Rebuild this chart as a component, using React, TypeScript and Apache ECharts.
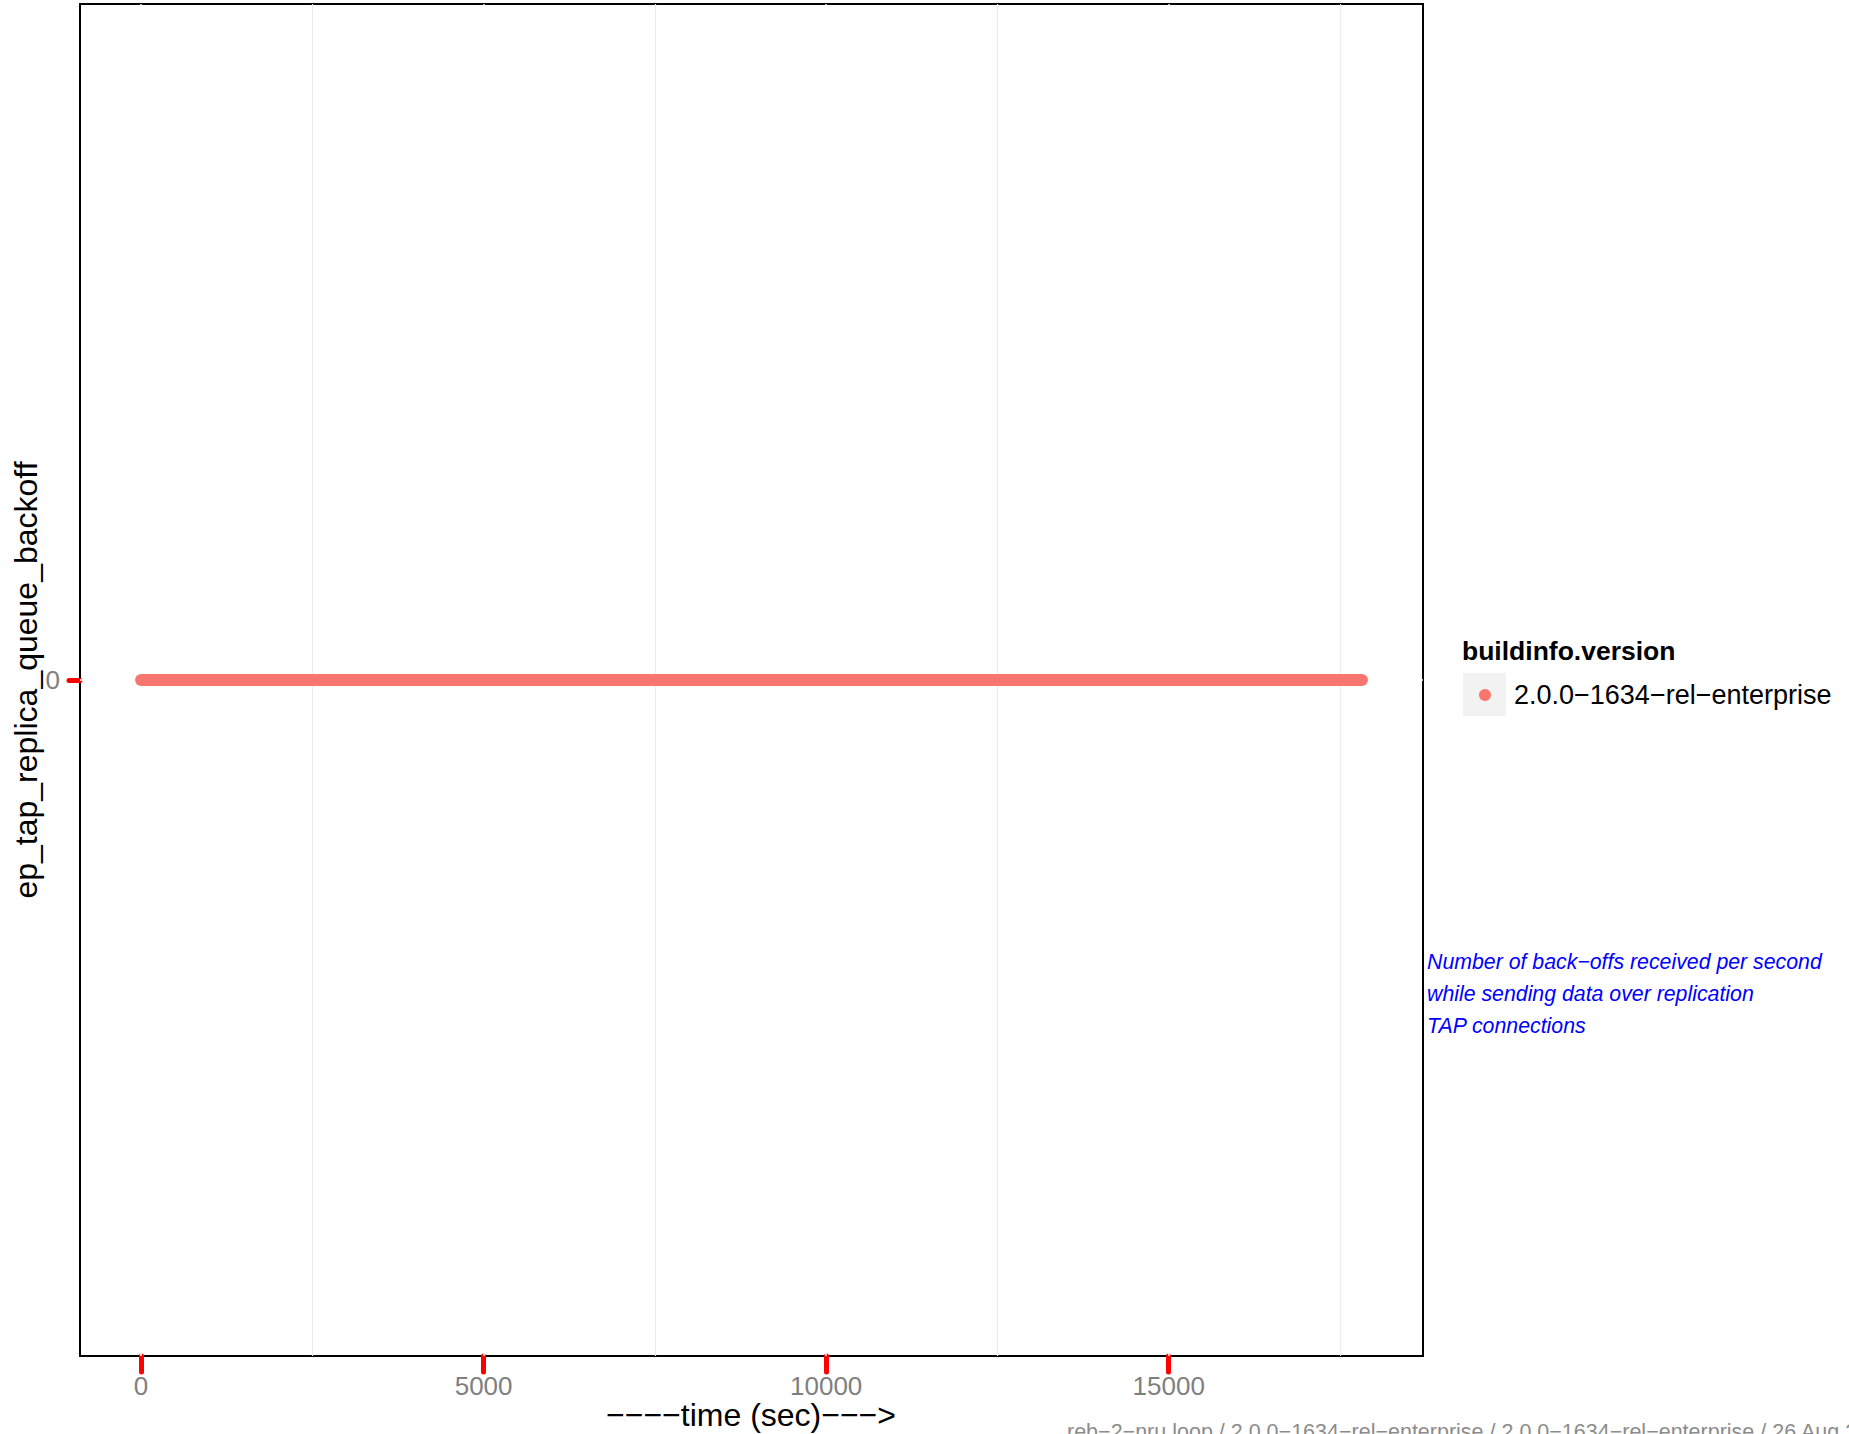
import React, { useEffect, useRef } from 'react';
import * as echarts from 'echarts';

const FONT = '"Liberation Sans", Arial, Helvetica, sans-serif';

const seriesName = '2.0.0−1634−rel−enterprise';
const sampleTimes = [0, 17820];
const sampleValues = [0, 0];
const xTickValues = [0, 5000, 10000, 15000];
const xMinorValues = [2500, 7500, 12500, 17500];
const yTickValues = [0];
const xRange = [-891, 18711];
const yRange = [-1, 1];
const xTitle = '−−−−time (sec)−−−>';
const yTitle = 'ep_tap_replica_queue_backoff';
const legendTitle = 'buildinfo.version';
const noteLines = [
  'Number of back−offs received per second',
  'while sending data over replication',
  'TAP connections',
];
const footer =
  'reb−2−nru loop / 2.0.0−1634−rel−enterprise / 2.0.0−1634−rel−enterprise / 26 Aug 2012';

export default function App() {
  const ref = useRef<HTMLDivElement>(null);
  useEffect(() => {
    if (!ref.current) return;
    const chart = echarts.init(ref.current, null, { renderer: 'svg' });
    const gridLines: any[] = [
      ...xMinorValues.map((v) => ({ xAxis: v, lineStyle: { color: '#ebebeb', width: 1.2, type: 'solid' } })),
      ...xTickValues.map((v) => ({ xAxis: v, lineStyle: { color: '#ffffff', width: 1.5, type: 'solid' } })),
      ...yTickValues.map((v) => ({ yAxis: v, lineStyle: { color: '#ffffff', width: 1.5, type: 'solid' } })),
    ];
    chart.setOption({
      animation: false,
      backgroundColor: '#ffffff',
      textStyle: { fontFamily: FONT },
      grid: {
        left: 80,
        top: 4,
        width: 1343,
        height: 1352,
        show: true,
        borderColor: '#000000',
        borderWidth: 2,
        backgroundColor: '#ffffff',
        containLabel: false,
        outerBoundsMode: 'none',
      },
      xAxis: {
        type: 'value',
        min: xRange[0],
        max: xRange[1],
        axisLine: { show: false, onZero: false },
        splitLine: { show: false },
        axisTick: {
          show: true,
          customValues: xTickValues,
          length: 16,
          lineStyle: { color: '#ff0000', width: 5, cap: 'round' },
        },
        axisLabel: {
          customValues: xTickValues,
          formatter: (v: number) => String(v),
          color: '#7f7f7f',
          fontSize: 26,
          lineHeight: 26,
          margin: 17,
          fontFamily: FONT,
        },
      },
      yAxis: {
        type: 'value',
        min: yRange[0],
        max: yRange[1],
        axisLine: { show: false, onZero: false },
        splitLine: { show: false },
        axisTick: {
          show: true,
          customValues: yTickValues,
          length: 11,
          lineStyle: { color: '#ff0000', width: 5, cap: 'round' },
        },
        axisLabel: {
          customValues: yTickValues,
          formatter: (v: number) => String(v),
          color: '#7f7f7f',
          fontSize: 26,
          margin: 20,
          fontFamily: FONT,
        },
      },
      legend: {
        data: [seriesName],
        left: 1479,
        top: 680,
        padding: 0,
        icon: 'circle',
        itemWidth: 12,
        itemHeight: 12,
        itemGap: 0,
        selectedMode: false,
        textStyle: { fontSize: 27, color: '#000000', fontFamily: FONT, lineHeight: 30, padding: [0, 0, 0, 18] },
      },
      graphic: [
        {
          type: 'text',
          x: 751,
          y: 1415,
          style: {
            text: xTitle,
            fontSize: 32,
            lineHeight: 30,
            fontFamily: FONT,
            fill: '#000000',
            align: 'center',
            verticalAlign: 'middle',
          },
        },
        {
          type: 'text',
          x: 26,
          y: 680,
          rotation: Math.PI / 2,
          style: {
            text: yTitle,
            fontSize: 32,
            fontFamily: FONT,
            fill: '#000000',
            align: 'center',
            verticalAlign: 'middle',
          },
        },
        {
          type: 'rect',
          x: 1463,
          y: 673,
          shape: { width: 43, height: 43 },
          style: { fill: '#f2f2f2' },
          z: 0,
        },
        {
          type: 'text',
          x: 1462,
          y: 651,
          style: {
            text: legendTitle,
            fontSize: 26.5,
            fontWeight: 'bold',
            fontFamily: FONT,
            fill: '#000000',
            align: 'left',
            verticalAlign: 'middle',
          },
        },
        {
          type: 'text',
          x: 1427,
          y: 946,
          style: {
            text: noteLines.join('\n'),
            fontSize: 21.3,
            fontStyle: 'italic',
            fontFamily: FONT,
            fill: '#0000ff',
            lineHeight: 32,
            align: 'left',
            verticalAlign: 'top',
          },
        },
        {
          type: 'text',
          x: 1067,
          y: 1432,
          style: {
            text: footer,
            fontSize: 21.5,
            fontFamily: FONT,
            fill: '#8c8c8c',
            align: 'left',
            verticalAlign: 'middle',
          },
        },
      ],
      series: [
        {
          type: 'line',
          name: 'gridlines',
          data: [],
          z: 1,
          silent: true,
          markLine: {
            silent: true,
            z: 1,
            symbol: ['none', 'none'],
            label: { show: false },
            animation: false,
            data: gridLines,
          },
        },
        {
          type: 'line',
          name: seriesName,
          data: sampleTimes.map((t, i) => [t, sampleValues[i]]),
          showSymbol: false,
          symbol: 'circle',
          symbolSize: 12,
          itemStyle: { color: '#F8766D' },
          lineStyle: { color: '#F8766D', width: 12, cap: 'round' },
          z: 3,
        },
      ],
    });
    return () => chart.dispose();
  }, []);
  return (
    <div
      ref={ref}
      style={{ position: 'absolute', left: 0, top: 0, width: 1849, height: 1434, overflow: 'hidden' }}
    />
  );
}
